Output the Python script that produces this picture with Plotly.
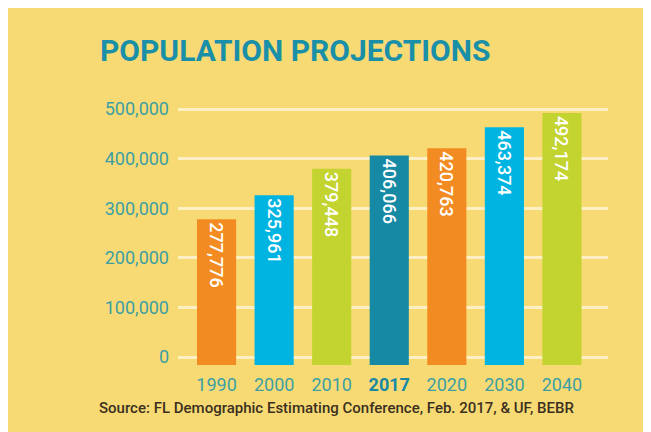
import plotly.graph_objects as go

years = ["1990", "2000", "2010", "2017", "2020", "2030", "2040"]
population = [277776, 325961, 379448, 406066, 420763, 463374, 492174]
bar_colors = ["#f28c22", "#00b4e2", "#c3d32f", "#1689a4", "#f28c22", "#00b4e2", "#c3d32f"]
y_ticks = [0, 100000, 200000, 300000, 400000, 500000]
y_tick_labels = ["0", "100,000", "200,000", "300,000", "400,000", "500,000"]
highlight_year = "2017"

BG = "#f8da75"
TEAL = "#3d9fa3"
DARK_TEAL = "#1789a6"
BAR_PAD = 16000  # bars start a little below the zero line, as in the original

tick_text = [
    f"<span style='color:{DARK_TEAL}'><b>{y}</b></span>" if y == highlight_year else y
    for y in years
]

L, R, T, B = 170, 51, 92, 70
PW, PH = 651 - L - R, 432 - T - B

fig = go.Figure()
fig.add_trace(go.Bar(
    x=years,
    y=[v + BAR_PAD for v in population],
    base=[-BAR_PAD] * len(population),
    marker=dict(color=bar_colors, line=dict(width=0)),
    text=[f"{v:,}" for v in population],
    textposition="inside",
    insidetextanchor="end",
    textangle=90,
    textfont=dict(family="Roboto, sans-serif", size=18, color="white", weight=500),
    constraintext="none",
    cliponaxis=False,
    hoverinfo="skip",
))

fig.add_annotation(
    text="<b>POPULATION PROJECTIONS</b>",
    xref="paper", yref="paper", x=(90 - L) / PW, y=(432 - B - 42) / PH,
    xanchor="left", yanchor="middle", showarrow=False,
    font=dict(family="Roboto, sans-serif", size=30, color="#1a90a8"),
)
fig.add_annotation(
    text="Source: FL Demographic Estimating Conference, Feb. 2017, & UF, BEBR",
    xref="paper", yref="paper", x=(89 - L) / PW, y=(432 - B - 400) / PH,
    xanchor="left", yanchor="middle", showarrow=False,
    font=dict(family="Roboto, sans-serif", size=15, color="#3b3020", weight=500),
)

fig.update_layout(
    width=651, height=432,
    margin=dict(l=L, r=R, t=T, b=B),
    paper_bgcolor=BG,
    plot_bgcolor=BG,
    bargap=0.32,
    showlegend=False,
    xaxis=dict(
        range=[-0.67, 6.8],
        tickmode="array", tickvals=years, ticktext=tick_text,
        tickfont=dict(family="Roboto, sans-serif", size=18, color=TEAL),
        showgrid=False, zeroline=False, showline=False, ticks="",
        ticklabelstandoff=2,
    ),
    yaxis=dict(
        range=[-26210, 518145],
        tickmode="array", tickvals=y_ticks, ticktext=y_tick_labels,
        tickfont=dict(family="Roboto, sans-serif", size=18, color=TEAL),
        showgrid=True, gridcolor="#fdf0c4", gridwidth=2.5,
        zeroline=False, showline=False, ticks="",
        ticklabelstandoff=8,
    ),
)

fig.write_html("out.html")
